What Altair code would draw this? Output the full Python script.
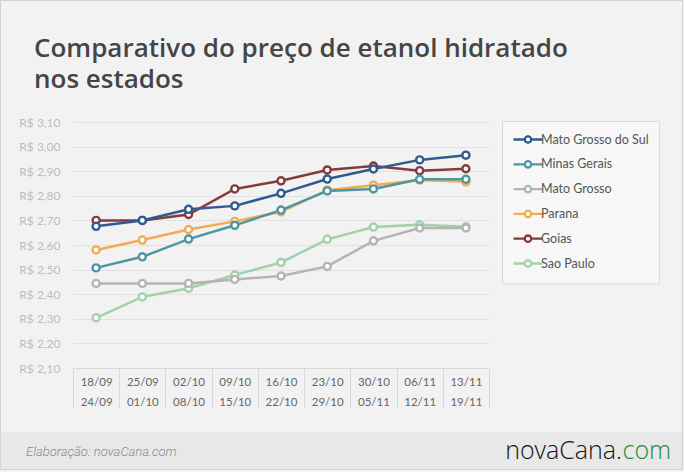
import altair as alt
import pandas as pd

# ---- data ----
semana_inicio = ["18/09", "25/09", "02/10", "09/10", "16/10", "23/10", "30/10", "06/11", "13/11"]
semana_fim = ["24/09", "01/10", "08/10", "15/10", "22/10", "29/10", "05/11", "12/11", "19/11"]

estados = ["Mato Grosso do Sul", "Minas Gerais", "Mato Grosso", "Parana", "Goias", "Sao Paulo"]
cores = ["#2f5b8f", "#4f96a4", "#b4b4b4", "#f0ac50", "#853b3d", "#a2d1aa"]

mato_grosso_do_sul = [2.676, 2.700, 2.745, 2.759, 2.810, 2.868, 2.909, 2.946, 2.965]
minas_gerais = [2.507, 2.552, 2.624, 2.680, 2.742, 2.820, 2.828, 2.867, 2.867]
mato_grosso = [2.444, 2.444, 2.444, 2.460, 2.474, 2.513, 2.617, 2.669, 2.669]
parana = [2.580, 2.620, 2.663, 2.696, 2.735, 2.823, 2.843, 2.864, 2.857]
goias = [2.700, 2.700, 2.724, 2.828, 2.861, 2.905, 2.921, 2.902, 2.910]
sao_paulo = [2.304, 2.389, 2.424, 2.478, 2.529, 2.623, 2.673, 2.682, 2.674]

ticks_y = [2.1, 2.2, 2.3, 2.4, 2.5, 2.6, 2.7, 2.8, 2.9, 3.0, 3.1]

titulo = ["Comparativo do preço de etanol hidratado", "nos estados"]
fonte = "Elaboração: novaCana.com"

# ---- table ----
semanas = [a + "|" + b for a, b in zip(semana_inicio, semana_fim)]
series = {
    "Mato Grosso do Sul": mato_grosso_do_sul,
    "Minas Gerais": minas_gerais,
    "Mato Grosso": mato_grosso,
    "Parana": parana,
    "Goias": goias,
    "Sao Paulo": sao_paulo,
}
rows = []
for est in reversed(estados):  # draw Mato Grosso do Sul last (on top)
    for s, v in zip(semanas, series[est]):
        rows.append({"semana": s, "estado": est, "preco": v})
df = pd.DataFrame(rows)
one = pd.DataFrame({"k": [0]})

W, H = 416, 246
LEFT, TOP = 73, 122

legend_symbol = ("M-1.45,0H-0.32M0.32,0H1.45"
                 "M-0.32,0A0.32,0.32,0,1,1,0.32,0A0.32,0.32,0,1,1,-0.32,0")

x_enc = alt.X(
    "semana:N", sort=semanas,
    scale=alt.Scale(type="band", paddingInner=0, paddingOuter=0),
    axis=alt.Axis(
        title=None,
        labelExpr="isString(datum.value) ? split(datum.value, '|') : ''",
        labelAngle=0,
        tickBand="extent", tickSize=40, tickColor="#d9d9d9", tickWidth=1,
        domainColor="#d9d9d9", labelPadding=-32, labelFontSize=11.5,
        labelColor="#666666", labelFont="Lato", labelLineHeight=20,
        labelOverlap=False,
    ),
)
y_enc = alt.Y(
    "preco:Q",
    scale=alt.Scale(domain=[2.1, 3.1], nice=False, zero=False),
    axis=alt.Axis(
        title=None, values=ticks_y,
        labelExpr="'R$ ' + replace(format(datum.value, '.2f'), '.', ',')",
        domain=False, ticks=False, grid=True, gridColor="#e1e1e1",
        labelPadding=13, labelFontSize=12, labelColor="#bdbdbd", labelFont="Lato",
    ),
)
color_enc = alt.Color(
    "estado:N", sort=estados,
    scale=alt.Scale(domain=estados, range=cores),
    legend=alt.Legend(
        title=None, orient="none", legendX=443.5, legendY=6,
        symbolType=legend_symbol, symbolSize=400, symbolStrokeWidth=2.3,
        symbolFillColor="#ffffff", symbolOffset=0, labelOffset=1.5,
        labelFont="Lato", labelFontSize=12.5, labelColor="#555555",
        rowPadding=4.8, padding=0,
    ),
)

# decorations
border = alt.Chart(one).mark_rect(fill="transparent", stroke="#d2d2d2", strokeWidth=1).encode(
    x=alt.value(0.5 - LEFT), x2=alt.value(682.5 - LEFT),
    y=alt.value(0.5 - TOP), y2=alt.value(469.5 - TOP))
footer = alt.Chart(one).mark_rect(fill="#e8e8e8").encode(
    x=alt.value(1 - LEFT), x2=alt.value(682 - LEFT),
    y=alt.value(432.5 - TOP), y2=alt.value(469 - TOP))
legend_box = alt.Chart(one).mark_rect(fill="#f7f7f7", stroke="#dadada", strokeWidth=1).encode(
    x=alt.value(502.5 - LEFT), x2=alt.value(659.5 - LEFT),
    y=alt.value(121.5 - TOP), y2=alt.value(284 - TOP))

lines = alt.Chart(df).mark_line(strokeWidth=2.5).encode(x=x_enc, y=y_enc, color=color_enc)
points = alt.Chart(df).mark_point(
    shape="circle", filled=False, fill="#ffffff", fillOpacity=1, opacity=1,
    size=50, strokeWidth=2.4).encode(x=x_enc, y=y_enc, color=color_enc)

title_mark = alt.Chart(one).mark_text(
    align="left", baseline="alphabetic", font="Open Sans", fontSize=26,
    fontWeight=600, color="#454545", lineHeight=31.6).encode(
    x=alt.value(34 - LEFT), y=alt.value(56.7 - TOP), text=alt.value(titulo))
src = alt.Chart(one).mark_text(align="left", baseline="middle", font="Roboto",
                               fontSize=13, fontStyle="italic", fontWeight=300,
                               color="#8a8a8a").encode(
    x=alt.value(26 - LEFT), y=alt.value(452 - TOP), text=alt.value(fonte))
logo_style = dict(baseline="middle", font="Open Sans", fontSize=25, fontWeight=300)
logo1 = alt.Chart(one).mark_text(align="right", color="#111111", **logo_style).encode(
    x=alt.value(622 - LEFT), y=alt.value(451 - TOP), text=alt.value("novaCana."))
logo2 = alt.Chart(one).mark_text(align="left", color="#1e8c3a", **logo_style).encode(
    x=alt.value(622.5 - LEFT), y=alt.value(451 - TOP), text=alt.value("com"))

chart = alt.layer(border, footer, legend_box, lines, points, title_mark, src, logo1, logo2).properties(
    width=W, height=H,
    autosize=alt.AutoSizeParams(type="none"),
    padding={"left": LEFT, "top": TOP, "right": 684 - LEFT - W, "bottom": 472 - TOP - H},
    background="#f2f2f2",
).configure_view(stroke=None)

chart.save("out.html", embed_options={"renderer": "svg", "actions": False})
